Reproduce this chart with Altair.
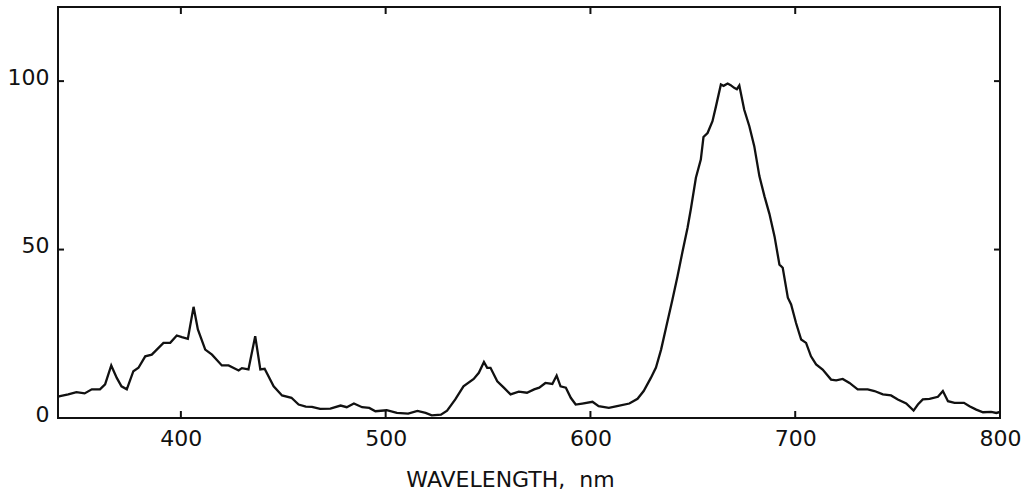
import altair as alt
import pandas as pd

# Spectrum
wavelength = [340, 341, 345, 349, 353, 356.5, 360.5, 363, 366, 368.7, 371, 373.6, 376.8, 379.3,
              382.6, 385.8, 391.5, 394.8, 398, 400.5, 403.4, 406.2, 408.3, 411.9, 415.2, 420,
              423.3, 428.2, 429.8, 433, 436.3, 438.8, 440.9, 445.3, 449.4, 454, 457.5, 461, 464,
              468, 473, 478, 481, 484.5, 488.5, 492, 495, 500.5, 505.5, 511, 515.5, 519.5, 522.5,
              527, 530, 534, 538, 543, 545.5, 548, 549.6, 551.2, 554.5, 557.7, 561, 565, 569,
              572.5, 575, 578, 581.4, 583.5, 585.4, 588, 590.4, 592.8, 596, 601, 604, 609, 613,
              619, 623, 626, 629.5, 632, 634.5, 637, 640, 642.5, 645, 647.4, 649, 651.5, 653.9,
              655.2, 657.2, 659.6, 661.3, 663.7, 665, 667, 668.5, 670.2, 671.5, 672.7, 675.1,
              677.6, 680, 682.5, 685, 687.4, 689.9, 692.3, 693.9, 696.4, 698, 700.4, 702.9, 705.3,
              707.7, 710.2, 713.4, 717.5, 720, 723.2, 726.5, 730.5, 735.4, 738.7, 742.8, 746.8,
              750.1, 754.2, 757.8, 759.9, 762.3, 765.6, 769.7, 772.1, 774.6, 777.8, 782.4, 785.1,
              788.4, 791.7, 795.7, 798.2, 800]
intensity = [6.3, 6.5, 7.0, 7.7, 7.3, 8.5, 8.5, 10, 15.6, 11.9, 9.4, 8.5, 13.9, 14.9,
             18.3, 18.8, 22.3, 22.3, 24.5, 24, 23.5, 33, 26.3, 20.3, 18.8, 15.6,
             15.6, 14.1, 14.8, 14.4, 24.3, 14.4, 14.6, 9.4, 6.7, 6, 4, 3.4, 3.3,
             2.7, 2.8, 3.7, 3.2, 4.3, 3.2, 3, 2, 2.3, 1.5, 1.3, 2.1, 1.5, 0.8,
             1, 2.2, 5.5, 9.4, 11.6, 13.4, 16.6, 14.9, 14.9, 10.9, 9, 7, 7.8, 7.5,
             8.5, 9, 10.4, 10.1, 12.6, 9.4, 9, 6, 4, 4.3, 4.8, 3.5, 3, 3.5,
             4.3, 5.7, 8, 11.9, 15, 20.3, 27, 35, 42, 49.5, 56.4, 61.9, 71.3, 76.7,
             83.4, 84.6, 88.1, 92.5, 99, 98.6, 99.3, 98.8, 98, 97.6, 98.7, 91.5,
             86.6, 80.7, 71.8, 65.8, 60.6, 53.9, 45.5, 44.6, 35.7, 33.7, 28.2, 23.3, 22.3,
             18.3, 15.9, 14.4, 11.4, 11.2, 11.6, 10.4, 8.5, 8.5, 8, 7, 6.7,
             5.5, 4.3, 2.2, 4, 5.5, 5.7, 6.3, 8, 5, 4.5, 4.5, 3.5,
             2.5, 1.7, 1.8, 1.5, 1.8]

x_label_values = [400, 500, 600, 700, 800]
y_label_values = [0, 50, 100]
x_tick_values = [400, 500, 600, 700]
y_tick_values = [50, 100]

W, H = 942, 411
FONT = "DejaVu Sans"

spec_df = pd.DataFrame({"wl": wavelength, "val": intensity})
xt_df = pd.DataFrame({"wl": x_tick_values})
yt_df = pd.DataFrame({"val": y_tick_values})

xscale = alt.Scale(domain=[340, 800], nice=False, zero=False)
yscale = alt.Scale(domain=[0, 122], nice=False, zero=False)

line = alt.Chart(spec_df).mark_line(color="#111111", strokeWidth=2.3, clip=True).encode(
    x=alt.X("wl:Q", scale=xscale,
            axis=alt.Axis(values=x_label_values, title="WAVELENGTH,\u00a0\u00a0nm", grid=False,
                          ticks=False, domain=False, labelFlush=False, labelPadding=10,
                          labelFontSize=22, labelFont=FONT, labelColor="#111111",
                          titleFontSize=22, titleFont=FONT, titleFontWeight="normal",
                          titleColor="#111111", titleX=452, titleY=68,
                          titleBaseline="alphabetic")),
    y=alt.Y("val:Q", scale=yscale,
            axis=alt.Axis(values=y_label_values, title=None, grid=False, ticks=False,
                          domain=False, labelPadding=9, labelOffset=-4,
                          labelFontSize=22, labelFont=FONT, labelColor="#111111")),
)

bottom_ticks = alt.Chart(xt_df).mark_rule(color="#111111", strokeWidth=2).encode(
    x=alt.X("wl:Q", scale=xscale), y=alt.value(H), y2=alt.value(H - 7))
top_ticks = alt.Chart(xt_df).mark_rule(color="#111111", strokeWidth=2).encode(
    x=alt.X("wl:Q", scale=xscale), y=alt.value(0), y2=alt.value(7))
left_ticks = alt.Chart(yt_df).mark_rule(color="#111111", strokeWidth=2).encode(
    y=alt.Y("val:Q", scale=yscale), x=alt.value(0), x2=alt.value(6))
right_ticks = alt.Chart(yt_df).mark_rule(color="#111111", strokeWidth=2).encode(
    y=alt.Y("val:Q", scale=yscale), x=alt.value(W), x2=alt.value(W - 6))

chart = alt.layer(line, bottom_ticks, top_ticks, left_ticks, right_ticks).properties(
    width=W, height=H,
    autosize=alt.AutoSizeParams(type="none"),
    padding={"left": 58, "top": 7, "right": 33, "bottom": 73},
    background="white",
).configure_view(stroke="#111111", strokeWidth=2)

chart.save("out.html", embed_options={"renderer": "svg", "actions": False})
